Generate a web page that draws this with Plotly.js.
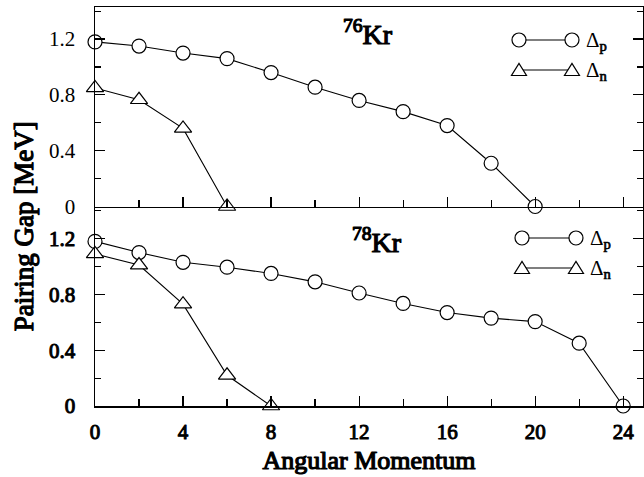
<!DOCTYPE html>
<html>
<head>
<meta charset="utf-8">
<script src="https://cdn.plot.ly/plotly-3.0.1.min.js"></script>
<style>
html,body{margin:0;padding:0;background:#fff;}
#chart{width:644px;height:477px;}
/* faux-bold: bold serif faces fall back to a sans face here, so thicken the regular serif */
#chart .xtick text, #chart .ytick text, #chart .xtitle,
#chart .annotation[data-index="0"] text, #chart .annotation[data-index="1"] text,
#chart .annotation[data-index="6"] text {
  stroke:#000; stroke-width:1px; stroke-linejoin:round;
}
#chart .annotation[data-index="0"] text, #chart .annotation[data-index="1"] text,
#chart .annotation[data-index="6"] text, #chart .xtitle { stroke-width:1.2px; }
</style>
</head>
<body>
<div id="chart"></div>
<script>
// ---- data ----
const spinP76 = [0, 2, 4, 6, 8, 10, 12, 14, 16, 18, 20];
const gapP76  = [1.18, 1.15, 1.10, 1.06, 0.96, 0.855, 0.76, 0.68, 0.58, 0.31, 0];
const spinN76 = [0, 2, 4, 6];
const gapN76  = [0.85, 0.765, 0.56, 0];

const spinP78 = [0, 2, 4, 6, 8, 10, 12, 14, 16, 18, 20, 22, 24];
const gapP78  = [1.18, 1.10, 1.03, 0.995, 0.95, 0.89, 0.81, 0.735, 0.67, 0.63, 0.605, 0.45, 0];
const spinN78 = [0, 2, 4, 6, 8];
const gapN78  = [1.09, 1.01, 0.73, 0.22, 0];

const xTickVals = [0, 4, 8, 12, 16, 20, 24];
const xTickText = ['0', '4', '8', '12', '16', '20', '24'];
const yTickVals = [0, 0.4, 0.8, 1.2];
const yTickText = ['0', '0.4', '0.8', '1.2'];

const nucleusTop = '<sup>76</sup>Kr';
const nucleusBottom = '<sup>78</sup>Kr';
const subStyle = 'stroke:#000;stroke-width:0.7px';
const labelP = 'Δ<sub><span style="' + subStyle + '">p</span></sub>';
const labelN = 'Δ<sub><span style="' + subStyle + '">n</span></sub>';

// ---- styling ----
const FAM = 'Liberation Serif';
const circleMk = {symbol: 'circle', size: 14, color: '#fff', line: {color: '#000', width: 1.2}};
const triMk = {symbol: 'triangle-up', size: 15, color: '#fff', line: {color: '#000', width: 1.2}};
const lineSt = {color: '#000', width: 1.1};

function tr(x, y, mk, xa, ya) {
  return {x: x, y: y, type: 'scatter', mode: 'lines+markers', marker: mk, line: lineSt,
          xaxis: xa, yaxis: ya, cliponaxis: false, showlegend: false};
}

const data = [
  tr(spinP78, gapP78, circleMk, 'x', 'y'),
  tr(spinN78, gapN78, triMk, 'x', 'y'),
  tr(spinP76, gapP76, circleMk, 'x2', 'y2'),
  tr(spinN76, gapN76, triMk, 'x2', 'y2')
];

const tickFont = {family: FAM, size: 21, color: '#000'};

function xAxis(extra) {
  return Object.assign({
    range: [0, 24.9], tickmode: 'array', tickvals: xTickVals, ticktext: xTickText,
    ticks: 'inside', ticklen: 10, tickwidth: 1.2, tickcolor: '#000',
    minor: {dtick: 2, tick0: 0, ticks: 'inside', ticklen: 7, tickwidth: 1.2, tickcolor: '#000'},
    showline: true, linecolor: '#000', linewidth: 1.5,
    showgrid: false, zeroline: false, tickfont: tickFont, ticklabelstandoff: 6
  }, extra);
}
function yAxis(extra) {
  return Object.assign({
    range: [0, 1.43], tickmode: 'array', tickvals: yTickVals, ticktext: yTickText,
    ticks: 'inside', ticklen: 10, tickwidth: 1.2, tickcolor: '#000',
    minor: {dtick: 0.2, tick0: 0, ticks: 'inside', ticklen: 6, tickwidth: 1.2, tickcolor: '#000'},
    showline: true, linecolor: '#000', linewidth: 1.5, mirror: 'ticks',
    showgrid: false, zeroline: false, tickfont: tickFont, ticklabelstandoff: 14
  }, extra);
}

// legend glyph helpers (paper coords, pixel-size shapes)
function circ(xp, yp) {
  return {type: 'circle', xref: 'paper', yref: 'paper', xsizemode: 'pixel', ysizemode: 'pixel',
          xanchor: xp, yanchor: yp, x0: -7, x1: 7, y0: -7, y1: 7,
          line: {color: '#000', width: 1.2}, fillcolor: '#fff', layer: 'above'};
}
function tri(xp, yp) {
  return {type: 'path', xref: 'paper', yref: 'paper', xsizemode: 'pixel', ysizemode: 'pixel',
          xanchor: xp, yanchor: yp, path: 'M-7.5,-5.5 L7.5,-5.5 L0,6.5 Z',
          line: {color: '#000', width: 1.2}, fillcolor: '#fff', layer: 'above'};
}
function seg(x0, x1, yp) {
  return {type: 'line', xref: 'paper', yref: 'paper', x0: x0, x1: x1, y0: yp, y1: yp,
          line: {color: '#000', width: 1.1}, layer: 'above'};
}
function legendBlock(xa, xb, yP, yN) {
  return [seg(xa, xb, yP), circ(xa, yP), circ(xb, yP),
          seg(xa, xb, yN), tri(xa, yN), tri(xb, yN)];
}

const shapes = [].concat(
  legendBlock(0.7737, 0.8704, 0.9173, 0.8421),
  legendBlock(0.7792, 0.8777, 0.4211, 0.3459)
);

function ann(text, x, y, font, opts) {
  return Object.assign({text: text, xref: 'paper', yref: 'paper', x: x, y: y, showarrow: false,
    xanchor: 'center', yanchor: 'middle', font: font}, opts || {});
}
const krFont = {family: FAM, size: 28, color: '#000'};
const legFont = {family: FAM, size: 21, color: '#000'};
const annotations = [
  ann(nucleusTop, 0.498, 0.935, krFont),
  ann(nucleusBottom, 0.5146, 0.416, krFont),
  ann(labelP, 0.892, 0.915, legFont, {xanchor: 'left'}),
  ann(labelN, 0.892, 0.840, legFont, {xanchor: 'left'}),
  ann(labelP, 0.899, 0.419, legFont, {xanchor: 'left'}),
  ann(labelN, 0.899, 0.344, legFont, {xanchor: 'left'}),
  ann('Pairing Gap [MeV]', -0.128, 0.45, {family: FAM, size: 27, color: '#000'}, {textangle: -90})
];

const layout = {
  width: 644, height: 477,
  margin: {l: 95, r: 1, t: 7, b: 71},
  paper_bgcolor: '#fff', plot_bgcolor: '#fff',
  showlegend: false,
  xaxis: xAxis({anchor: 'y', domain: [0, 1], mirror: false,
    title: {text: 'Angular Momentum', font: {family: FAM, size: 26, color: '#000'}, standoff: 8}}),
  yaxis: yAxis({anchor: 'x', domain: [0, 0.5]}),
  xaxis2: xAxis({anchor: 'y2', matches: 'x', showticklabels: false, domain: [0, 1], mirror: true}),
  yaxis2: yAxis({anchor: 'x2', domain: [0.5, 1]}),
  shapes: shapes,
  annotations: annotations
};

Plotly.newPlot('chart', data, layout, {displayModeBar: false, staticPlot: true});
</script>
</body>
</html>
